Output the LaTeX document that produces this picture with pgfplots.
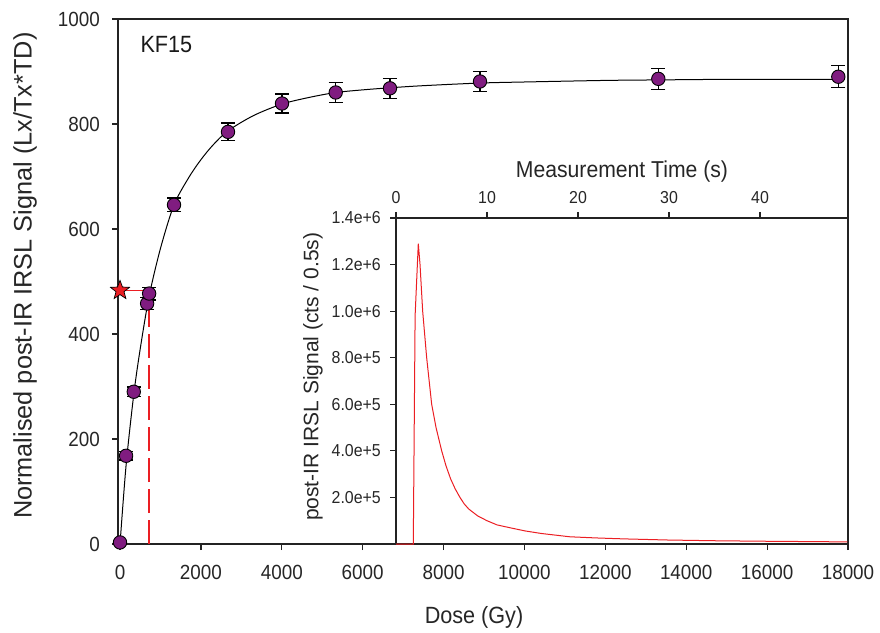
\documentclass[border=0pt]{standalone}
\usepackage{fontspec}
\setmainfont{Liberation Sans}[FakeStretch=0.92]
\newfontfamily\rotfont{Liberation Sans}
\usepackage{pgfplots}
\pgfplotsset{compat=1.18}
\definecolor{mpurple}{RGB}{128,28,128}
\definecolor{sred}{RGB}{235,30,35}
\definecolor{axgray}{RGB}{35,35,35}
\pgfdeclareplotmark{fstar}{%
  \pgfpathmoveto{\pgfpointpolar{90}{\pgfplotmarksize}}%
  \pgfpathlineto{\pgfpointpolar{126}{0.42\pgfplotmarksize}}%
  \pgfpathlineto{\pgfpointpolar{162}{\pgfplotmarksize}}%
  \pgfpathlineto{\pgfpointpolar{198}{0.42\pgfplotmarksize}}%
  \pgfpathlineto{\pgfpointpolar{234}{\pgfplotmarksize}}%
  \pgfpathlineto{\pgfpointpolar{270}{0.42\pgfplotmarksize}}%
  \pgfpathlineto{\pgfpointpolar{306}{\pgfplotmarksize}}%
  \pgfpathlineto{\pgfpointpolar{342}{0.42\pgfplotmarksize}}%
  \pgfpathlineto{\pgfpointpolar{18}{\pgfplotmarksize}}%
  \pgfpathlineto{\pgfpointpolar{54}{0.42\pgfplotmarksize}}%
  \pgfpathclose
  \pgfusepathqfillstroke}

\pgfplotstableread{
dose  sig  err
0     3    3
150   168  8
340   290  9
670   458  11
720   477  12
1335  646  13
2670  785  17
4005  839  18
5333  860  19
6675  868  19
8900  881  19
13310 886  20
17760 890  21
}\doseresp

\pgfplotstableread{
dose  sig
0     0
150   150
340   285
500   372
720   472
1000  563
1335  646
1700  698
2000  732
2300  760
2670  787
3300  816
4005  838
4700  851
5340  860
6000  865
6675  869
7500  873
8900  878
10000 880
12000 883
13350 884
15000 885
17800 885
}\fitcurve

\pgfplotstableread{
t     cts
0     0
1.0   0
1.9   0
2.1   980000
2.45  1290000
2.64  1200000
2.93  1000000
3.37  800000
3.92  600000
4.4   500000
5.02  400000
5.5   335000
6.0   280000
6.5   237000
7.03  200000
7.5   172000
8.0   150000
9.0   120000
10.0  100000
11.1  82000
12.5  70000
14.2  56000
16.0  45000
19.1  31000
22.0  26000
25.0  22000
30.0  17000
35.0  14000
40.0  12000
45.0  10500
49.6  9000
}\decay

\begin{document}
\begin{tikzpicture}
\useasboundingbox (0,0) rectangle (880pt,632pt);
\begin{axis}[
  at={(118pt,88pt)}, anchor=south west,
  scale only axis, width=730pt, height=525pt,
  xmin=-50, xmax=18000, ymin=0, ymax=1000,
  clip=false,
  xtick={0,2000,...,18000}, ytick={0,200,...,1000},
  scaled x ticks=false,
  /pgf/number format/1000 sep={},
  /pgf/number format/assume math mode=true,
  tick align=outside, xtick pos=bottom, ytick pos=left,
  major tick length=6pt,
  axis line style={line width=1.2pt, axgray},
  every tick/.style={line width=1.2pt, axgray},
  ticklabel style={font=\fontsize{20.5}{24}\selectfont, text=black!85},
  xticklabel style={anchor=north, inner sep=0pt, yshift=-15pt},
  yticklabel style={anchor=east, inner sep=0pt, xshift=-12pt},
  xlabel={Dose (Gy)},
  ylabel={Normalised post-IR IRSL Signal (Lx/Tx*TD)},
  xlabel style={at={(axis description cs:0.4877,-0.139)}, anchor=center,
    font=\fontsize{23.5}{28}\selectfont, text=black!85},
  ylabel style={at={(axis description cs:-0.1274,0.511)}, anchor=center,
    font=\rotfont\fontsize{25.3}{28}\selectfont, text=black!85},
]
\addplot[only marks, mark=*, mark size=6.7pt,
  mark options={fill=mpurple, draw=black, line width=0.9pt},
  error bars/.cd, y dir=both, y explicit,
  error bar style={line width=1.3pt, black},
  error mark options={rotate=90, mark size=7pt, line width=1.3pt, black}]
  table[x=dose, y=sig, y error=err] {\doseresp};
\addplot[smooth, black, line width=1pt, no marks] table[x=dose, y=sig] {\fitcurve};
\addplot[sred, line width=1.5pt, dash pattern=on 24pt off 7pt, no marks]
  coordinates {(717,0) (717,483)};
\addplot[sred, line width=1.5pt, no marks] coordinates {(0,483) (717,483)};
\addplot[only marks, mark=fstar, mark size=10pt,
  mark options={fill=sred, draw=black, line width=0.7pt}]
  coordinates {(0,483)};
\node[anchor=base west, font=\fontsize{23.5}{28}\selectfont, text=black!90]
  at (axis description cs:0.026,0.937) {KF15};
\end{axis}

\begin{axis}[
  at={(396pt,88pt)}, anchor=south west,
  scale only axis, width=452pt, height=326pt,
  xmin=0, xmax=49.67, ymin=0, ymax=1400000,
  axis x line*=top, axis y line*=left,
  xtick={0,10,...,40},
  ytick={200000,400000,600000,800000,1000000,1200000,1400000},
  yticklabels={2.0e+5,4.0e+5,6.0e+5,8.0e+5,1.0e+6,1.2e+6,1.4e+6},
  scaled y ticks=false,
  /pgf/number format/assume math mode=true,
  tick align=outside, major tick length=6pt,
  axis line style={line width=1.2pt, axgray},
  every tick/.style={line width=1.2pt, axgray},
  ticklabel style={font=\fontsize{17.3}{20}\selectfont, text=black!85},
  xticklabel style={anchor=south, inner sep=0pt, yshift=8pt},
  yticklabel style={anchor=east, inner sep=0pt, xshift=-9pt},
  xlabel={Measurement Time (s)},
  ylabel={post-IR IRSL Signal (cts / 0.5s)},
  xlabel style={at={(axis description cs:0.5,1.141)}, anchor=center,
    font=\fontsize{23}{27}\selectfont, text=black!85},
  ylabel style={at={(axis description cs:-0.1836,0.513)}, anchor=center,
    font=\rotfont\fontsize{21}{25}\selectfont, text=black!85},
]
\addplot[sred, line width=1pt, no marks] table[x=t, y=cts] {\decay};
\end{axis}
\end{tikzpicture}
\end{document}
